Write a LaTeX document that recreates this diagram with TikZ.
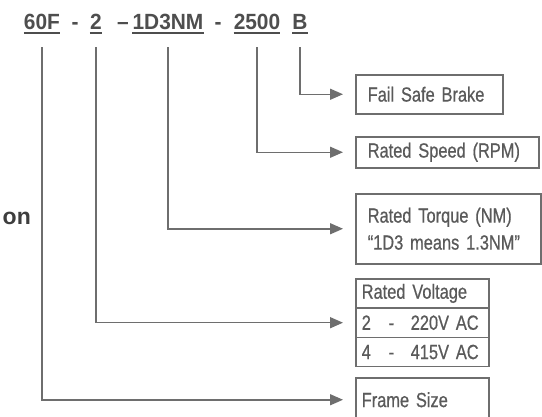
\documentclass[tikz,border=0pt]{standalone}
\usepackage{fontspec}
\setmainfont{Liberation Sans}
\newfontfamily\narrowfont[FakeStretch=0.8,FakeBold=0.6,WordSpace=0.65]{Liberation Sans}
\newfontfamily\hdrfont[FakeStretch=0.95]{Liberation Sans}
\usetikzlibrary{arrows.meta}
\definecolor{hdrgray}{HTML}{4E4E4E}
\definecolor{ongray}{HTML}{3E3E3E}
\definecolor{txtgray}{HTML}{5A5A5A}
\definecolor{linegray}{HTML}{6E6E6E}
\begin{document}
\begin{tikzpicture}[x=1pt,y=-1pt,
  hdr/.style={font=\hdrfont\fontsize{22}{22}\selectfont\bfseries, text=hdrgray, inner sep=0pt, anchor=base},
  uline/.style={draw=hdrgray, line width=2pt},
  lbl/.style={draw=linegray, line width=1.5pt, font=\narrowfont\fontsize{20.5}{27}\selectfont, text=txtgray,
    align=left, anchor=north west, inner ysep=0pt},
  conn/.style={draw=linegray, line width=1.5pt, -{Triangle[length=13pt,width=11pt]}, shorten >=12pt},
]
\path[use as bounding box, fill=white] (0,0) rectangle (542,416);

% header code
\node[hdr] (h60F) at (42,29) {60F};
\node[hdr] (hd1) at (75,29) {-};
\node[hdr] (h2) at (96,29) {2};
\node[hdr] (hd2) at (123,29) {–};
\node[hdr] (h1D3) at (168,29) {1D3NM};
\node[hdr] (hd3) at (218,29) {-};
\node[hdr] (h2500) at (257,29) {2500};
\node[hdr] (hB) at (300,29) {B};
\foreach \n in {h60F,h2,h1D3,h2500,hB}
  \draw[uline] ([yshift=-4pt]\n.base west) -- ([yshift=-4pt]\n.base east);

% cropped side text
\node[font=\fontsize{23}{23}\selectfont\bfseries, text=ongray, inner sep=0pt, anchor=base east] (on) at (31,224) {on};

% boxes
\node[lbl, minimum width=147pt, minimum height=39pt, text width=123pt, inner xsep=12pt] (fail) at (355,74) {Fail Safe Brake};
\node[lbl, minimum width=183pt, minimum height=31pt, text width=159pt, inner xsep=12pt] (speed) at (355,136) {\mbox{Rated Speed (RPM)}};
\node[lbl, minimum width=185pt, minimum height=70pt, text width=161pt, inner xsep=12pt] (torque) at (355,193) {\mbox{Rated Torque (NM)}\\\mbox{“1D3 means 1.3NM”}};
\node[lbl, minimum width=133pt, minimum height=29.3pt, text width=121pt, inner xsep=6pt] (vhead) at (355,278) {Rated Voltage};
\node[lbl, minimum width=133pt, minimum height=29.3pt, text width=121pt, inner xsep=6pt] (v220) at (355,307.3) {\makebox[27pt][l]{2}\makebox[22pt][l]{-}220V AC};
\node[lbl, minimum width=133pt, minimum height=29.3pt, text width=121pt, inner xsep=6pt] (v415) at (355,336.6) {\makebox[27pt][l]{4}\makebox[22pt][l]{-}415V AC};
\node[lbl, minimum width=133pt, minimum height=44pt, text width=121pt, inner xsep=6pt] (frame) at (355,377) {Frame Size};

% connectors
\draw[conn] ([yshift=-18pt]hB.base) |- (fail.west);
\draw[conn] ([yshift=-18pt]h2500.base) |- (speed.west);
\draw[conn] ([yshift=-18pt]h1D3.base) |- (torque.west);
\draw[conn] ([yshift=-18pt]h2.base) |- (v220.west);
\draw[conn] ([yshift=-18pt]h60F.base) |- (frame.west);
\end{tikzpicture}
\end{document}
